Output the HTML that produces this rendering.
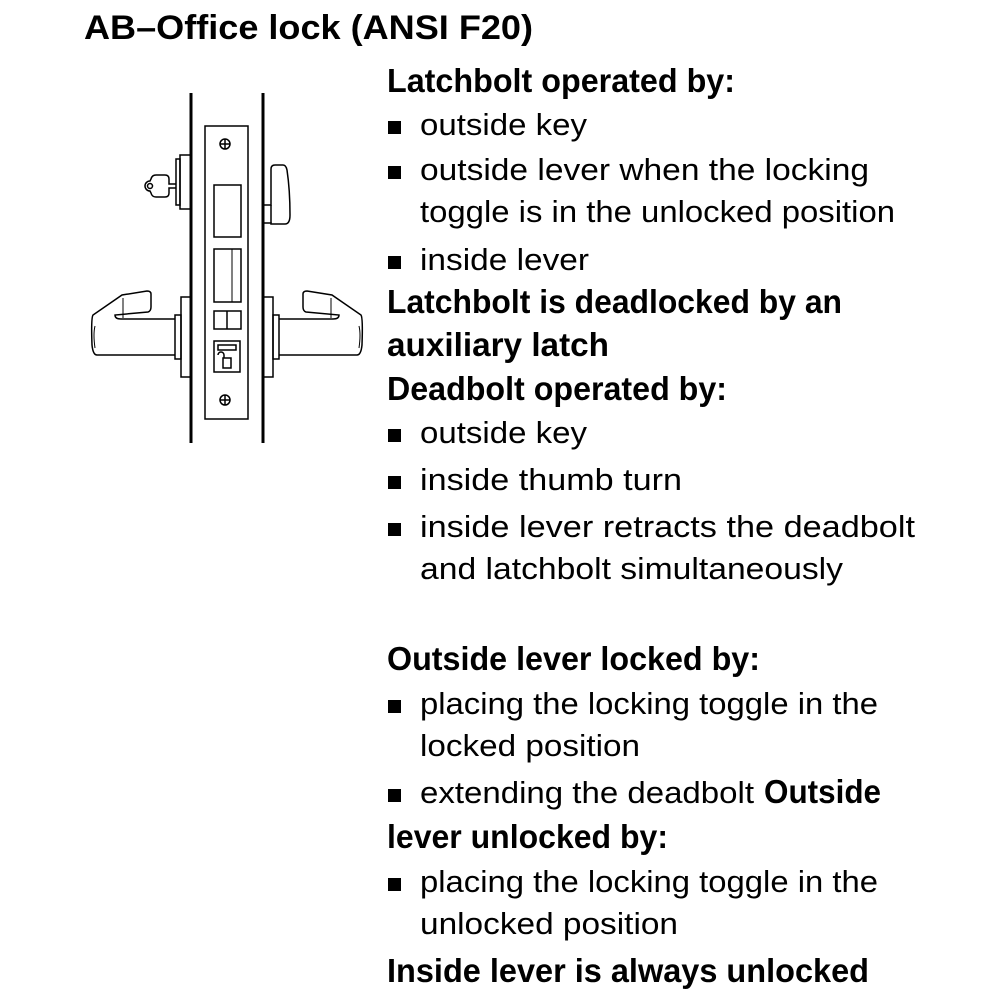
<!DOCTYPE html>
<html><head><style>html,body{margin:0;padding:0;background:#fff}</style></head>
<body>
<svg width="1000" height="1000" viewBox="0 0 1000 1000" xmlns="http://www.w3.org/2000/svg" font-family="Liberation Sans, sans-serif" fill="#000">
<g font-weight="bold" font-size="33">
<text x="84" y="39" textLength="449" lengthAdjust="spacingAndGlyphs" font-size="34">AB–Office lock (ANSI F20)</text>
<text x="387" y="92" textLength="348" lengthAdjust="spacingAndGlyphs">Latchbolt operated by:</text>
<text x="387" y="313" textLength="455" lengthAdjust="spacingAndGlyphs">Latchbolt is deadlocked by an</text>
<text x="387" y="356" textLength="222" lengthAdjust="spacingAndGlyphs">auxiliary latch</text>
<text x="387" y="400" textLength="340" lengthAdjust="spacingAndGlyphs">Deadbolt operated by:</text>
<text x="387" y="670" textLength="373" lengthAdjust="spacingAndGlyphs">Outside lever locked by:</text>
<text x="764" y="803" textLength="117" lengthAdjust="spacingAndGlyphs">Outside</text>
<text x="387" y="848" textLength="281" lengthAdjust="spacingAndGlyphs">lever unlocked by:</text>
<text x="387" y="982" textLength="482" lengthAdjust="spacingAndGlyphs">Inside lever is always unlocked</text>
</g>
<g font-size="31">
<text x="420" y="135" textLength="167" lengthAdjust="spacingAndGlyphs">outside key</text>
<text x="420" y="180" textLength="449" lengthAdjust="spacingAndGlyphs">outside lever when the locking</text>
<text x="420" y="222" textLength="475" lengthAdjust="spacingAndGlyphs">toggle is in the unlocked position</text>
<text x="420" y="270" textLength="169" lengthAdjust="spacingAndGlyphs">inside lever</text>
<text x="420" y="443" textLength="167" lengthAdjust="spacingAndGlyphs">outside key</text>
<text x="420" y="490" textLength="262" lengthAdjust="spacingAndGlyphs">inside thumb turn</text>
<text x="420" y="537" textLength="495" lengthAdjust="spacingAndGlyphs">inside lever retracts the deadbolt</text>
<text x="420" y="579" textLength="423" lengthAdjust="spacingAndGlyphs">and latchbolt simultaneously</text>
<text x="420" y="714" textLength="458" lengthAdjust="spacingAndGlyphs">placing the locking toggle in the</text>
<text x="420" y="756" textLength="220" lengthAdjust="spacingAndGlyphs">locked position</text>
<text x="420" y="803" textLength="334" lengthAdjust="spacingAndGlyphs">extending the deadbolt</text>
<text x="420" y="892" textLength="458" lengthAdjust="spacingAndGlyphs">placing the locking toggle in the</text>
<text x="420" y="934" textLength="258" lengthAdjust="spacingAndGlyphs">unlocked position</text>
</g>
<g>
<rect x="388" y="121" width="13" height="13"/>
<rect x="388" y="166" width="13" height="13"/>
<rect x="388" y="256" width="13" height="13"/>
<rect x="388" y="429" width="13" height="13"/>
<rect x="388" y="476" width="13" height="13"/>
<rect x="388" y="523" width="13" height="13"/>
<rect x="388" y="700" width="13" height="13"/>
<rect x="388" y="789" width="13" height="13"/>
<rect x="388" y="878" width="13" height="13"/>
</g>
<g fill="none" stroke="#000" stroke-width="1.5">
<line x1="191" y1="93" x2="191" y2="443" stroke-width="3"/>
<line x1="263" y1="93" x2="263" y2="443" stroke-width="3"/>
<rect x="205" y="126" width="43" height="293"/>
<circle cx="225" cy="144" r="5"/><line x1="220" y1="144" x2="230" y2="144"/><line x1="225" y1="139" x2="225" y2="149"/>
<circle cx="225" cy="400" r="5"/><line x1="220" y1="400" x2="230" y2="400"/><line x1="225" y1="395" x2="225" y2="405"/>
<rect x="214" y="185" width="27" height="52"/>
<rect x="214" y="249" width="27" height="53"/><line x1="232" y1="249" x2="232" y2="302" stroke-width="1"/>
<rect x="214" y="311" width="27" height="18"/><line x1="227" y1="311" x2="227" y2="329"/>
<rect x="214" y="341" width="26" height="31"/>
<rect x="218" y="345" width="18" height="5"/>
<rect x="223" y="358" width="8" height="10"/><path d="M224 358 v-3 a3 3 0 0 0 -6 0"/>
<!-- key cylinder -->
<rect x="180" y="155" width="11" height="54"/>
<rect x="176" y="159" width="4" height="46"/>
<path d="M176 184 h-7 v-5 q0 -4 -4 -4 h-9 q-4 0 -5 4 l-1 2 a5 5 0 0 0 0 10 l1 2 q1 4 5 4 h9 q4 0 4 -4 v-5 h7"/>
<circle cx="150" cy="186" r="2.5"/>
<!-- thumb turn -->
<path d="M263 205 h8 v-36 q0 -4 4 -4 h8 q3 0 4 5 q3 20 3 45 q0 9 -5 9 h-14 v-1 h-8"/>
<line x1="271" y1="205" x2="271" y2="223"/>
<!-- left lever -->
<rect x="181" y="297" width="10" height="80"/>
<rect x="175" y="315" width="6" height="44"/>
<path d="M175 319 h-54 q-6 0 -6 -4 l33 -3 q3 -1 3 -5 v-13 q0 -3 -4 -3 l-25 4 l-29 20 q-2 3 -1 30 q1 10 5 10 h78"/>
<line x1="123" y1="298" x2="123" y2="318" stroke-width="1"/>
<path d="M95 326 q-2 8 0 22" stroke-width="1"/>
<!-- right lever -->
<rect x="263" y="297" width="10" height="80"/>
<rect x="273" y="315" width="6" height="44"/>
<path d="M279 319 h54 q6 0 6 -4 l-33 -3 q-3 -1 -3 -5 v-13 q0 -3 4 -3 l25 4 l29 20 q2 3 1 30 q-1 10 -5 10 h-78"/>
<line x1="331" y1="298" x2="331" y2="318" stroke-width="1"/>
<path d="M359 326 q2 8 0 22" stroke-width="1"/>
</g>
</svg>
</body></html>
